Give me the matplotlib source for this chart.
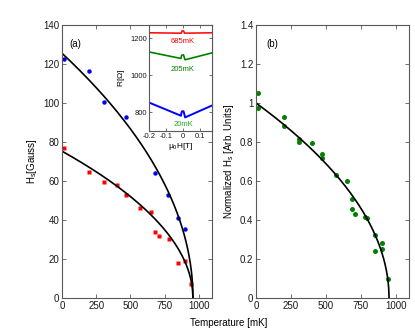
import numpy as np
import matplotlib
matplotlib.use('Agg')
import matplotlib.pyplot as plt
from matplotlib.ticker import FuncFormatter

plt.rcParams['font.family'] = ['Liberation Sans', 'DejaVu Sans']
plt.rcParams['axes.unicode_minus'] = False

# panel (a): switching field vs temperature
blue_T = [17, 199, 307, 467, 679, 776, 849, 898]
blue_H = [122.6, 116.5, 100.7, 92.7, 64.0, 52.6, 40.9, 35.2]
red_T = [17, 199, 307, 399, 467, 569, 647, 679, 708, 783, 849, 898, 942]
red_H = [76.9, 64.5, 59.5, 57.9, 52.8, 46.0, 44.1, 33.7, 31.6, 30.1, 17.8, 18.8, 7.2]

# fit parameters: H = H0 * (1 - T/Tc)^0.5
fit_H0 = [125.5, 75.3]
fit_Tc = 956
fit_exp = 0.5

# panel (b): normalized switching field
norm_T = [16, 16, 203, 203, 308, 308, 403, 470, 470, 573, 649, 685, 685,
          709, 780, 792, 852, 852, 900, 900, 947]
norm_H = [1.05, 0.976, 0.927, 0.882, 0.814, 0.80, 0.793, 0.738, 0.72,
          0.629, 0.602, 0.509, 0.458, 0.431, 0.417, 0.409, 0.325, 0.24,
          0.281, 0.253, 0.096]
norm_Tc = 952

# inset: R vs field at three temperatures
field_20 = [-0.2, -0.012, -0.009, -0.005, 0.003, 0.007, 0.012, 0.17]
R_20 = [853, 782, 800, 806, 806, 792, 773, 837]
field_205 = [-0.2, -0.012, -0.009, -0.005, 0.003, 0.007, 0.012, 0.17]
R_205 = [1125, 1090, 1104, 1109, 1109, 1096, 1083, 1120]
field_685 = [-0.2, -0.01, -0.006, 0.004, 0.008, 0.17]
R_685 = [1228, 1226, 1238, 1238, 1226, 1228]
inset_labels = ['20mK', '205mK', '685mK']
inset_label_R = [736, 1030, 1180]

spine_c = '0.35'


def style_axes(ax, size):
    ax.tick_params(direction='in', top=True, right=True, length=3,
                   width=0.6, color=spine_c, labelsize=size, pad=2,
                   labelcolor='0.1')
    for s in ax.spines.values():
        s.set_color(spine_c)
        s.set_linewidth(0.8)


fig = plt.figure(figsize=(4.15, 3.35), dpi=100)
ax1 = fig.add_axes([0.1494, 0.1104, 0.3614, 0.815])
ax2 = fig.add_axes([0.6169, 0.1104, 0.3687, 0.815])
ax3 = fig.add_axes([0.359, 0.609, 0.1518, 0.3164])

fmt = FuncFormatter(lambda v, p: '%g' % v)

# (a)
ax1.plot(blue_T, blue_H, 'o', color='#0000ff', ms=3.2, mec='none')
ax1.plot(red_T, red_H, 's', color='#ff0000', ms=2.8, mec='none')
for H0 in fit_H0:
    T = np.linspace(0, fit_Tc, 400)
    ax1.plot(T, H0 * (1 - T / fit_Tc) ** fit_exp, color='k', lw=1.2)
ax1.set_xlim(0, 1095)
ax1.set_ylim(0, 140)
ax1.set_xticks([0, 250, 500, 750, 1000])
ax1.set_yticks(range(0, 141, 20))
ax1.set_ylabel('H$_\\mathregular{s}$[Gauss]', fontsize=7, labelpad=3)
ax1.text(0.05, 0.95, '(a)', transform=ax1.transAxes, fontsize=7,
         va='top')
style_axes(ax1, 7)

# (b)
ax2.plot(norm_T, norm_H, 'o', color='#008000', ms=3.6, mec='none')
T = np.linspace(0, norm_Tc, 400)
ax2.plot(T, (1 - T / norm_Tc) ** fit_exp, color='k', lw=1.2)
ax2.set_xlim(0, 1095)
ax2.set_ylim(0, 1.4)
ax2.set_xticks([0, 250, 500, 750, 1000])
ax2.set_yticks(np.arange(0, 1.41, 0.2))
ax2.yaxis.set_major_formatter(fmt)
ax2.set_ylabel('Normalized H$_\\mathregular{s}$ [Arb. Units]', fontsize=7,
               labelpad=3)
ax2.text(0.07, 0.95, '(b)', transform=ax2.transAxes, fontsize=7,
         va='top')
style_axes(ax2, 7)

fig.text(0.552, 0.035, 'Temperature [mK]', fontsize=7, ha='center',
         va='center')

# inset
ax3.plot(field_20, R_20, color='#0000ff', lw=1.4)
ax3.plot(field_205, R_205, color='#008000', lw=1.2)
ax3.plot(field_685, R_685, color='#ff0000', lw=1.1)
for lab, r, c in zip(inset_labels, inset_label_R,
                     ['#0000ff', '#008000', '#ff0000']):
    tc = '#22aa22' if c == '#0000ff' else c
    ax3.text(0.0, r, lab, color=tc, fontsize=5.5, ha='center', va='center')
ax3.set_xlim(-0.2, 0.17)
ax3.set_ylim(700, 1270)
ax3.set_xticks([-0.2, -0.1, 0, 0.1])
ax3.set_yticks([800, 1000, 1200])
ax3.xaxis.set_major_formatter(fmt)
ax3.set_xlabel('$\\mathregular{\\mu_0}$H[T]', fontsize=6, labelpad=1)
ax3.set_ylabel('R[$\\mathregular{\\Omega}$]', fontsize=6, labelpad=2)
style_axes(ax3, 5.5)
ax3.tick_params(length=2, pad=1.5)

fig.savefig('out.png', dpi=100)
